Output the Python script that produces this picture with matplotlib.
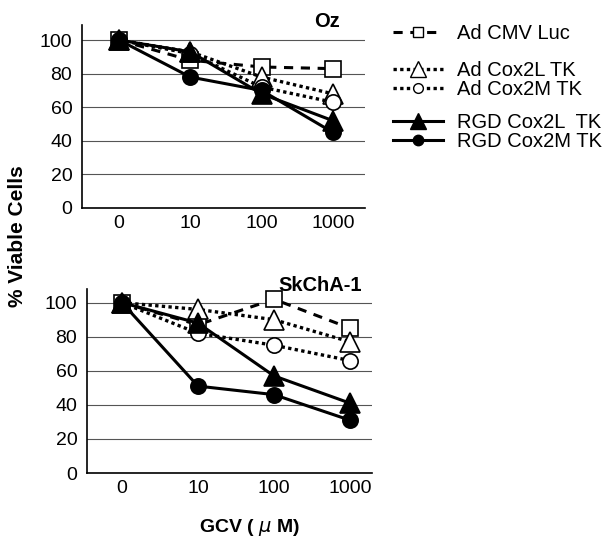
import numpy as np
import matplotlib.pyplot as plt
from matplotlib.lines import Line2D

plt.rcParams['font.family'] = ['Liberation Sans', 'DejaVu Sans']

doses = ['0', '10', '100', '1000']
series = ['Ad CMV Luc', 'Ad Cox2L TK', 'Ad Cox2M TK', 'RGD Cox2L  TK', 'RGD Cox2M TK']

oz = {
    'Ad CMV Luc': [100, 88, 84, 83],
    'Ad Cox2L TK': [100, 93, 78, 68],
    'Ad Cox2M TK': [100, 92, 72, 63],
    'RGD Cox2L  TK': [100, 93, 68, 52],
    'RGD Cox2M TK': [100, 78, 70, 45],
}
skcha = {
    'Ad CMV Luc': [100, 87, 102, 85],
    'Ad Cox2L TK': [100, 96, 90, 77],
    'Ad Cox2M TK': [100, 82, 75, 66],
    'RGD Cox2L  TK': [100, 88, 57, 41],
    'RGD Cox2M TK': [100, 51, 46, 31],
}

styles = {
    'Ad CMV Luc': dict(ls=(0, (3, 2.5)), marker='s', mfc='white', ms=11, lw=2.2, lms=7),
    'Ad Cox2L TK': dict(ls=(0, (1, 1)), marker='^', mfc='white', ms=15, lw=2.4, lms=12),
    'Ad Cox2M TK': dict(ls=(0, (1, 1)), marker='o', mfc='white', ms=11, lw=2.4, lms=7),
    'RGD Cox2L  TK': dict(ls='-', marker='^', mfc='black', ms=15, lw=2.2, lms=11),
    'RGD Cox2M TK': dict(ls='-', marker='o', mfc='black', ms=11, lw=2.2, lms=7.5),
}

W, H = 608, 538
fig = plt.figure(figsize=(W / 100, H / 100), dpi=100)


def box(l, t, r, b):
    return [l / W, 1 - b / H, (r - l) / W, (b - t) / H]


ax1 = fig.add_axes(box(82, 25, 365, 208))
ax2 = fig.add_axes(box(87, 289, 372, 473))


def draw(ax, data, title, tx, xlim, ytop):
    x = np.arange(len(doses))
    for name in series:
        st = styles[name]
        ax.plot(x, data[name], color='black', linestyle=st['ls'], lw=st['lw'],
                marker=st['marker'], ms=st['ms'], mfc=st['mfc'], mec='black',
                mew=1.2, zorder=3, clip_on=False)
    ax.set_ylim(0, ytop)
    ax.set_xlim(*xlim)
    ax.set_yticks(range(0, 101, 20))
    ax.set_xticks(x)
    ax.set_xticklabels(doses)
    ax.yaxis.grid(True, color='#555555', lw=0.8)
    ax.set_axisbelow(True)
    for s in ['top', 'right']:
        ax.spines[s].set_visible(False)
    ax.spines['left'].set_linewidth(1.2)
    ax.spines['bottom'].set_linewidth(1.2)
    ax.tick_params(axis='y', length=0, labelsize=14, pad=7)
    ax.tick_params(axis='x', length=0, labelsize=14, pad=5)
    ax.text(tx, 1.02, title, transform=ax.transAxes, fontsize=14.5, fontweight='bold',
            ha='right', va='center')


draw(ax1, oz, 'Oz', 0.91, (-0.52, 3.45), 109)
draw(ax2, skcha, 'SkChA-1', 0.965, (-0.46, 3.29), 108)

fig.text(18 / W, 1 - 236 / H, '% Viable Cells', rotation=90, fontsize=15,
         fontweight='bold', ha='center', va='center')
fig.text(250 / W, 1 - 527 / H, 'GCV ( $\\mu$ M)', fontsize=14, fontweight='bold',
         ha='center', va='center')


def proxy(name):
    st = styles[name]
    return Line2D([], [], color='black', linestyle=st['ls'], lw=st['lw'],
                  marker=st['marker'], ms=st['lms'], mfc=st['mfc'], mec='black', mew=1.0)


kw = dict(frameon=False, fontsize=14.5, handlelength=2.5, handletextpad=0.7,
          borderpad=0, borderaxespad=0, loc='upper left')
groups = [(series[:1], 24, 0.1), (series[1:3], 61, 0.0), (series[3:], 113, 0.0)]
for names, top, sp in groups:
    fig.legend([proxy(n) for n in names], names,
               bbox_to_anchor=(393 / W, 1 - top / H), labelspacing=sp, **kw)

fig.savefig('out.png', dpi=100)
